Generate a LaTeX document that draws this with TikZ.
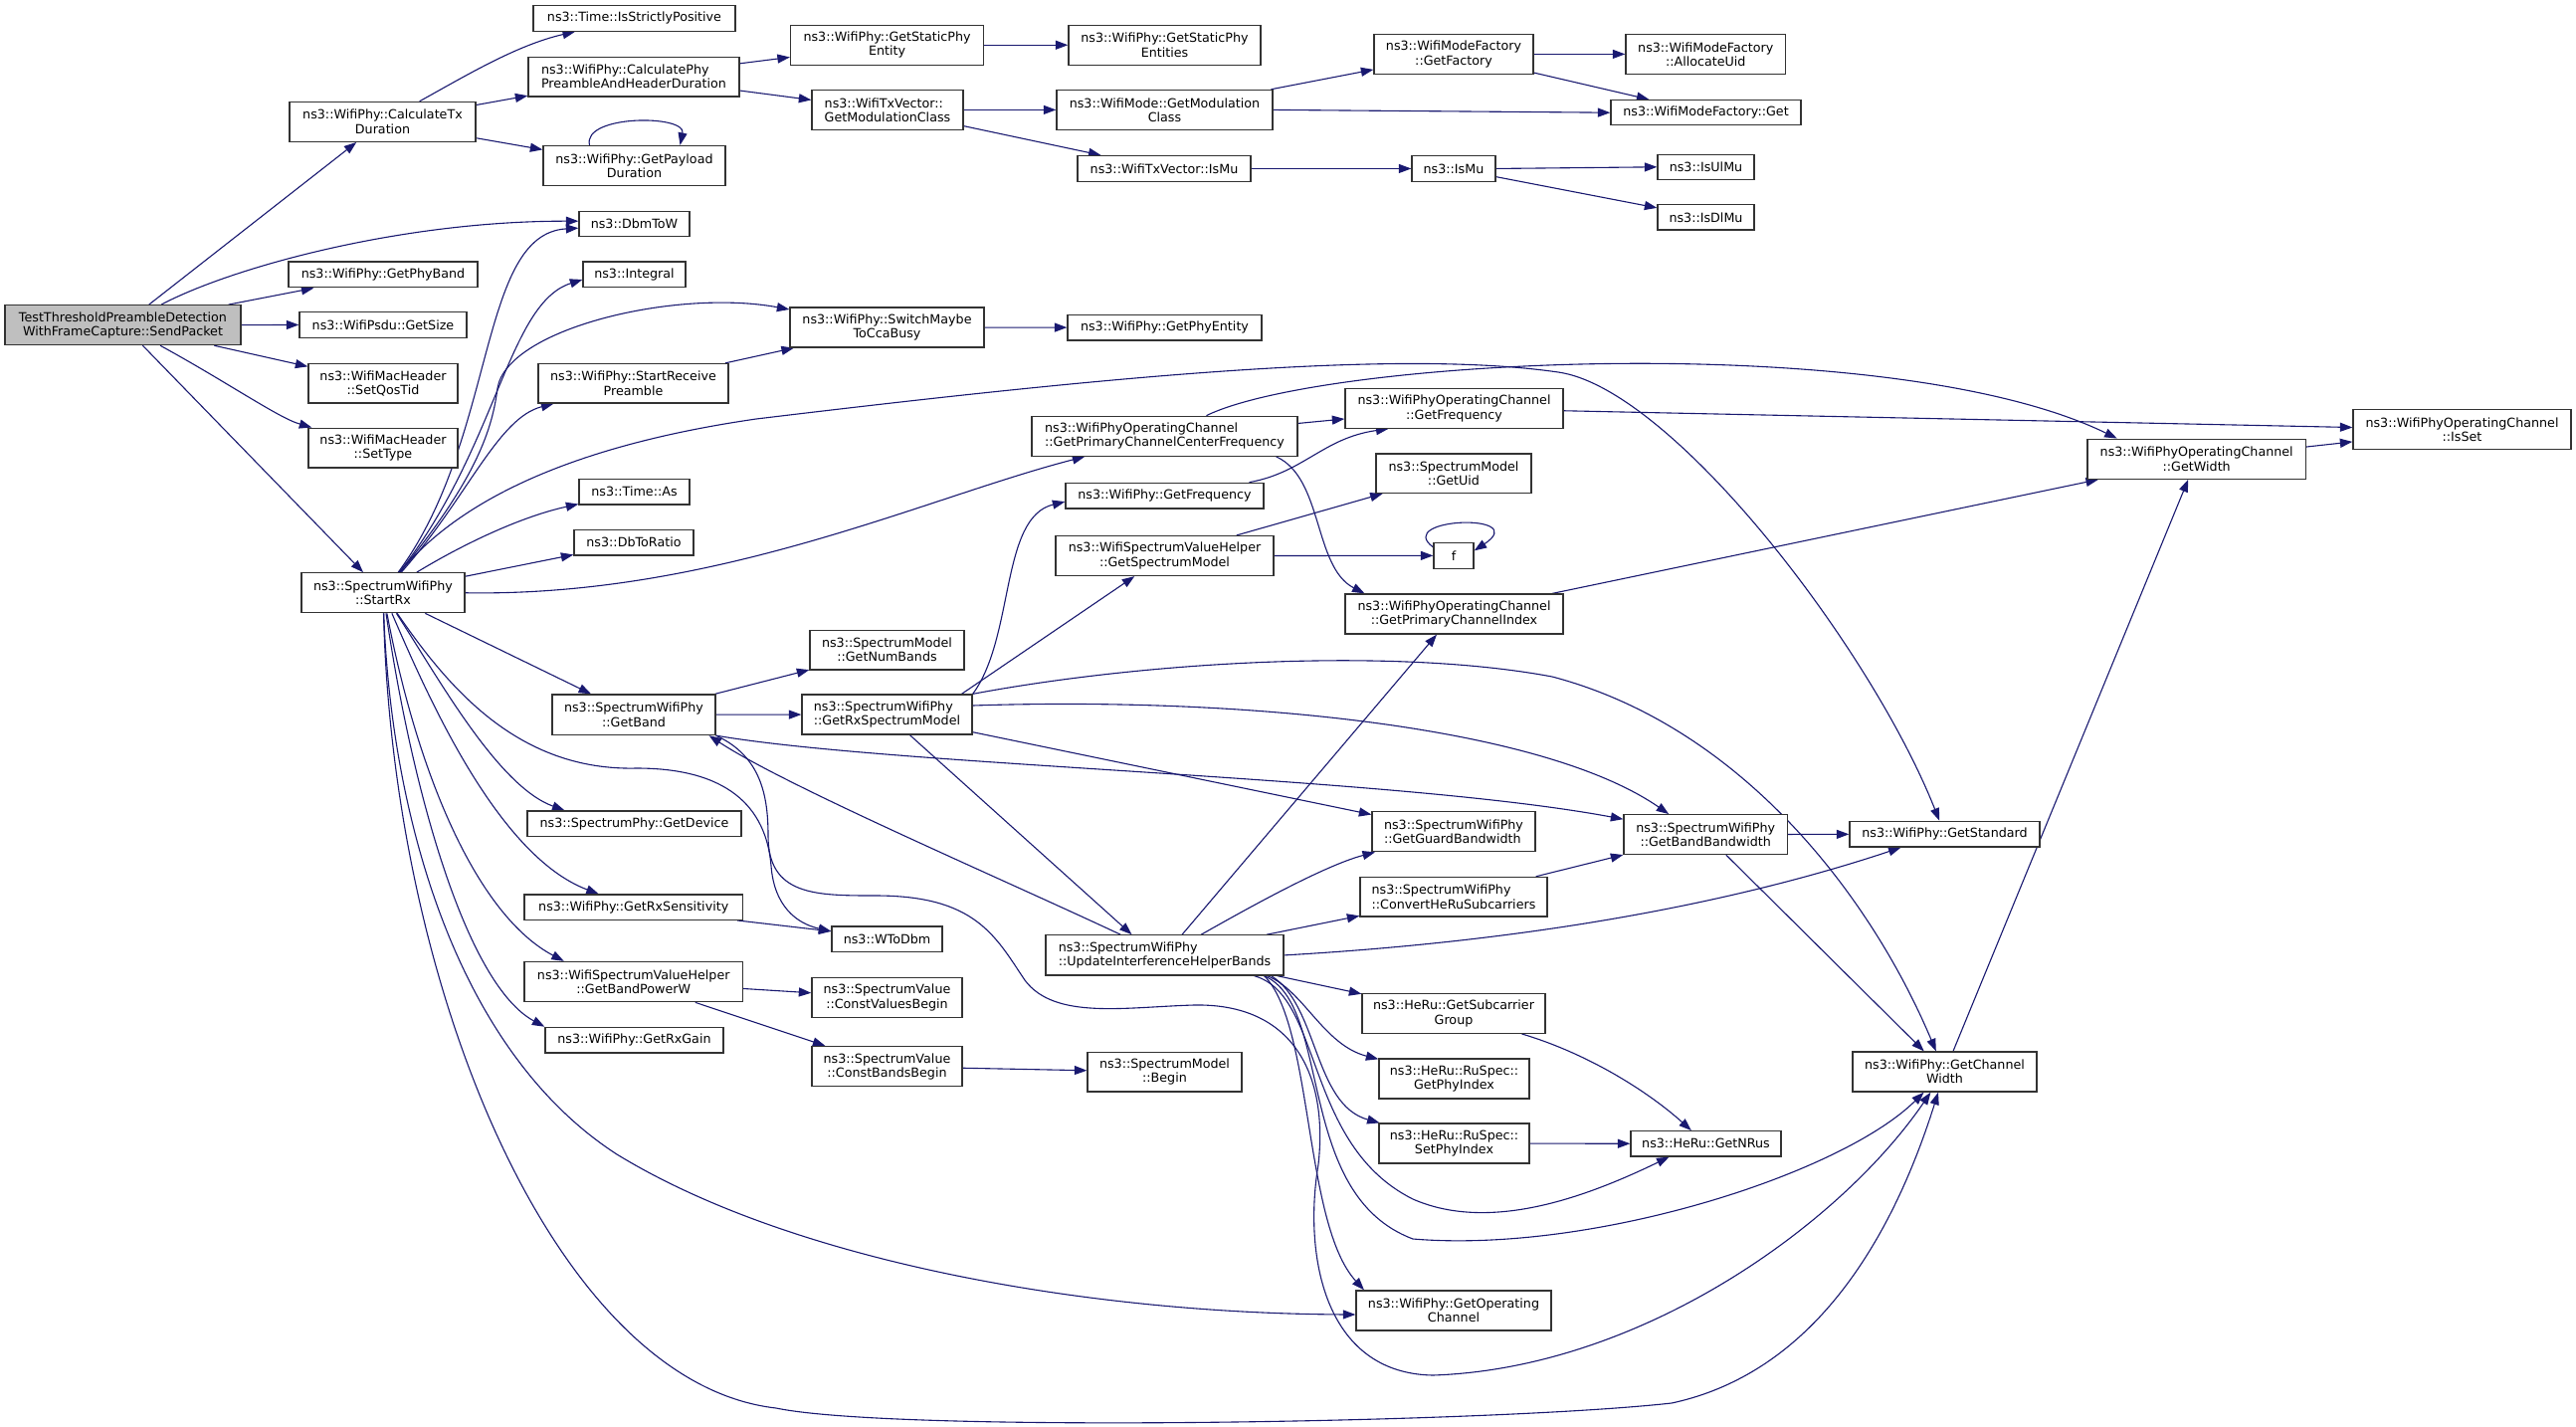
\documentclass[tikz,border=0pt]{standalone}
\usepackage{fontspec}
\setmainfont{DejaVu Sans}
\usetikzlibrary{arrows.meta}
\definecolor{edgec}{HTML}{191970}
\definecolor{boxc}{HTML}{333333}
\definecolor{rootc}{HTML}{BFBFBF}
\pgfdeclarelayer{background}
\pgfsetlayers{background,main}
\tikzset{
  box/.style={draw=boxc, line width=1.3pt, fill=white, rectangle, inner sep=0pt, align=center, font=\fontsize{12.7}{14.2}\selectfont},
  boxl/.style={box, align=left},
  e/.style={draw=edgec, line width=1.1pt, -{Triangle[length=12.5pt,width=9pt]}},
}
\newcommand\mknode[7][]{\node[box,#1,minimum width={#4-#3},minimum height={#6-#5}] (#2) at ({(#3+#4)/2},{(#5+#6)/2}) {#7};}
\begin{document}
\begin{tikzpicture}[x=1pt,y=-1pt]
\useasboundingbox (0,0) rectangle (2589,1433);
% nodes
\mknode[fill=rootc]{sp}{5}{242}{306.7}{346.6}{TestThresholdPreambleDetection\\WithFrameCapture::SendPacket}
\mknode{ctd}{291}{478}{102.4}{142.3}{ns3::WifiPhy::CalculateTx\\Duration}
\mknode{isp}{536}{739}{5.5}{31.2}{ns3::Time::IsStrictlyPositive}
\mknode[boxl]{cpp}{531}{743}{57.4}{96.9}{ns3::WifiPhy::CalculatePhy\\PreambleAndHeaderDuration}
\mknode{gpd}{546}{729}{146.5}{186.4}{ns3::WifiPhy::GetPayload\\Duration}
\mknode{dbmtow}{582}{693}{212.6}{237.8}{ns3::DbmToW}
\mknode{gpb}{290}{480}{263.1}{288.8}{ns3::WifiPhy::GetPhyBand}
\mknode{integral}{586}{689}{263.1}{288.8}{ns3::Integral}
\mknode{gsize}{301}{469}{313.6}{339.3}{ns3::WifiPsdu::GetSize}
\mknode{sqt}{310}{460}{365.5}{405}{ns3::WifiMacHeader\\::SetQosTid}
\mknode{srp}{541}{732}{365.5}{405}{ns3::WifiPhy::StartReceive\\Preamble}
\mknode{stype}{310}{460}{430.2}{470}{ns3::WifiMacHeader\\::SetType}
\mknode{tas}{582}{693}{481.6}{506.9}{ns3::Time::As}
\mknode{dbr}{577}{697}{532.6}{557.9}{ns3::DbToRatio}
\mknode{sr}{303}{467}{575.8}{615.7}{ns3::SpectrumWifiPhy\\::StartRx}
\mknode{gband}{555}{719}{698}{738.5}{ns3::SpectrumWifiPhy\\::GetBand}
\mknode{gdev}{530}{745}{815}{840.3}{ns3::SpectrumPhy::GetDevice}
\mknode{grs}{527}{746.5}{899}{924.3}{ns3::WifiPhy::GetRxSensitivity}
\mknode{gbpw}{527}{746.5}{966.5}{1006.7}{ns3::WifiSpectrumValueHelper\\::GetBandPowerW}
\mknode{grg}{548}{727}{1032.4}{1058.1}{ns3::WifiPhy::GetRxGain}
\mknode{gspe}{794.5}{988.7}{25.3}{65.2}{ns3::WifiPhy::GetStaticPhy\\Entity}
\mknode{gspes}{1074}{1267}{25.3}{65.2}{ns3::WifiPhy::GetStaticPhy\\Entities}
\mknode[boxl]{tvgmc}{816}{968}{90.4}{130.4}{ns3::WifiTxVector::\\GetModulationClass}
\mknode{wmgmc}{1062}{1279}{90.4}{130.4}{ns3::WifiMode::GetModulation\\Class}
\mknode{tvismu}{1083}{1257}{156.6}{182.3}{ns3::WifiTxVector::IsMu}
\mknode{gfac}{1381}{1541}{34.4}{74.4}{ns3::WifiModeFactory\\::GetFactory}
\mknode{auid}{1634}{1794.5}{34.4}{74.4}{ns3::WifiModeFactory\\::AllocateUid}
\mknode{wmfget}{1619}{1810}{100.6}{125.8}{ns3::WifiModeFactory::Get}
\mknode{ismu}{1419}{1503}{156.6}{182.3}{ns3::IsMu}
\mknode{isul}{1666}{1763}{155.2}{180.4}{ns3::IsUlMu}
\mknode{isdl}{1666}{1763}{205.7}{231}{ns3::IsDlMu}
\mknode{sw}{794}{989}{309}{349}{ns3::WifiPhy::SwitchMaybe\\ToCcaBusy}
\mknode{gpe}{1073}{1268}{316.3}{342}{ns3::WifiPhy::GetPhyEntity}
\mknode[boxl]{gpccf}{1037}{1304}{418.3}{458.2}{ns3::WifiPhyOperatingChannel\\::GetPrimaryChannelCenterFrequency}
\mknode{wpgf}{1071}{1270}{485.3}{511}{ns3::WifiPhy::GetFrequency}
\mknode{gsm}{1061}{1280}{538.6}{578.5}{ns3::WifiSpectrumValueHelper\\::GetSpectrumModel}
\mknode{gnb}{814}{969}{633.2}{673.1}{ns3::SpectrumModel\\::GetNumBands}
\mknode[boxl]{grsm}{806}{977}{698}{738}{ns3::SpectrumWifiPhy\\::GetRxSpectrumModel}
\mknode{wtodbm}{836}{947}{931}{956.7}{ns3::WToDbm}
\mknode{cvb}{816}{967}{982.4}{1022.6}{ns3::SpectrumValue\\::ConstValuesBegin}
\mknode{cbb}{816}{967}{1051.6}{1091.8}{ns3::SpectrumValue\\::ConstBandsBegin}
\mknode{smb}{1093}{1248}{1057.6}{1097}{ns3::SpectrumModel\\::Begin}
\mknode[boxl]{uihb}{1051}{1290}{939.8}{980}{ns3::SpectrumWifiPhy\\::UpdateInterferenceHelperBands}
\mknode{wpocgf}{1352}{1571}{390.7}{430.2}{ns3::WifiPhyOperatingChannel\\::GetFrequency}
\mknode{guid}{1383}{1539}{456}{495.4}{ns3::SpectrumModel\\::GetUid}
\mknode{fn}{1441}{1481}{545.5}{571.2}{f}
\mknode{gpci}{1352}{1571}{597}{637}{ns3::WifiPhyOperatingChannel\\::GetPrimaryChannelIndex}
\mknode[boxl]{ggb}{1379}{1543}{815.5}{855.7}{ns3::SpectrumWifiPhy\\::GetGuardBandwidth}
\mknode[boxl]{cvt}{1367}{1555}{881.4}{921.1}{ns3::SpectrumWifiPhy\\::ConvertHeRuSubcarriers}
\mknode{gsg}{1369}{1553}{998.7}{1038.3}{ns3::HeRu::GetSubcarrier\\Group}
\mknode{gpi}{1386}{1537}{1064}{1104}{ns3::HeRu::RuSpec::\\GetPhyIndex}
\mknode{spi}{1386}{1537}{1129}{1169}{ns3::HeRu::RuSpec::\\SetPhyIndex}
\mknode{goc}{1363}{1559}{1297}{1337}{ns3::WifiPhy::GetOperating\\Channel}
\mknode{gbb}{1632}{1796.4}{818.7}{858.5}{ns3::SpectrumWifiPhy\\::GetBandBandwidth}
\mknode{gs}{1859}{2050}{825.3}{851}{ns3::WifiPhy::GetStandard}
\mknode{gnrus}{1639}{1790}{1136.7}{1162}{ns3::HeRu::GetNRus}
\mknode{gcw}{1862}{2047}{1057}{1097}{ns3::WifiPhy::GetChannel\\Width}
\mknode{gw}{2098}{2317.4}{441.2}{481.2}{ns3::WifiPhyOperatingChannel\\::GetWidth}
\mknode{isset}{2365}{2584}{411.8}{451.8}{ns3::WifiPhyOperatingChannel\\::IsSet}
\begin{pgfonlayer}{background}
\fill[white] (0,0) rectangle (2589,1433);
% SendPacket
\draw[e] (sp) -- (ctd);
\draw[e] (sp) .. controls (230,270) and (400,222) .. ([yshift=3]dbmtow.west);
\draw[e] (sp) -- (gpb);
\draw[e] (sp.east) -- (gsize.west);
\draw[e] (sp) -- (sqt);
\draw[e] (sp) .. controls (230,385) and (280,420) .. (stype);
\draw[e] (sp) -- (sr);
% CalculateTxDuration
\draw[e] (ctd) .. controls (470,75) and (520,45) .. (isp);
\draw[e] (ctd) -- (cpp);
\draw[e] (ctd) -- (gpd);
\draw[e] ([xshift=-45]gpd.north) .. controls (585,115) and (690,115) .. ([xshift=46]gpd.north);
\draw[e] (cpp) -- (gspe);
\draw[e] (cpp) -- (tvgmc);
\draw[e] (gspe) -- (gspes);
\draw[e] (tvgmc) -- (wmgmc);
\draw[e] (tvgmc) -- (tvismu);
\draw[e] (wmgmc) -- (gfac);
\draw[e] (wmgmc.east) -- (wmfget.west);
\draw[e] (gfac) -- (auid);
\draw[e] (gfac) -- (wmfget);
\draw[e] (tvismu) -- (ismu);
\draw[e] (ismu.east) -- (isul.west);
\draw[e] (ismu) -- (isdl);
% StartRx
\draw[e] (sr) .. controls (500,440) and (480,235) .. ([yshift=-4]dbmtow.west);
\draw[e] (sr) .. controls (500,450) and (510,305) .. ([yshift=-5]integral.west);
\draw[e] (sr) .. controls (480,480) and (495,430) .. (500,390) .. controls (510,330) and (680,290) .. (sw);
\draw[e] (sr) .. controls (470,500) and (500,420) .. (srp);
\draw[e] (srp) -- (sw);
\draw[e] (sw) -- (gpe);
\draw[e] (sr) .. controls (455,510) and (560,450) .. (760,421) .. controls (1100,380) and (1400,350) .. (1566,374) .. controls (1680,390) and (1880,650) .. (gs);
\draw[e] (sr.east) .. controls (720,600) and (930,500) .. (gpccf);
\draw[e] (sr) .. controls (460,550) and (520,520) .. (tas);
\draw[e] (sr) -- (dbr);
\draw[e] (sr) -- (gband);
\draw[e] (sr) .. controls (440,680) and (500,790) .. ([xshift=-70]gdev.north);
\draw[e] (sr) .. controls (430,700) and (500,860) .. ([xshift=-35]grs.north);
\draw[e] (sr) .. controls (420,780) and (480,920) .. ([xshift=-70]gbpw.north);
\draw[e] (sr) .. controls (415,800) and (470,990) .. (grg.north west);
\draw[e] (sr) .. controls (392,800) and (450,1050) .. (620,1160) .. controls (800,1270) and (1100,1320) .. ([yshift=-4]goc.west);
\draw[e] (sr) .. controls (395,1000) and (560,1390) .. (780,1415) .. controls (900,1440) and (1500,1430) .. (1680,1410) .. controls (1820,1380) and (1900,1250) .. (gcw);
\draw[e] (sr) .. controls (450,690) and (520,775) .. (640,772) .. controls (730,772) and (770,810) .. (775,870) .. controls (778,910) and (800,928) .. ([yshift=8]wtodbm.west);
\draw[e] ([xshift=-6]grs.south east) -- ([yshift=8]wtodbm.west);
% GetBand
\draw[e] (gband) -- (gnb);
\draw[e] (gband) -- (grsm);
\draw[e] (gband.south east) .. controls (900,770) and (1400,780) .. (gbb);
\draw[e] (gband.south east) .. controls (765,760) and (772,800) .. (772,840) .. controls (772,900) and (820,900) .. (880,900) .. controls (980,900) and (1000,940) .. (1030,985) .. controls (1060,1025) and (1130,1012) .. (1200,1010) .. controls (1300,1008) and (1335,1080) .. (1325,1170) .. controls (1310,1260) and (1330,1380) .. (1440,1382) .. controls (1650,1375) and (1850,1230) .. (gcw);
% GetRxSpectrumModel
\draw[e] (grsm) -- ([xshift=-33]uihb.north);
\draw[e] (grsm.north east) .. controls (1020,640) and (1005,520) .. ([yshift=-6]wpgf.west);
\draw[e] ([xshift=75]grsm.north) -- (gsm);
\draw[e] (grsm.north east) .. controls (1150,665) and (1400,650) .. (1560,680) .. controls (1750,730) and (1880,900) .. (gcw);
\draw[e] ([yshift=9]grsm.east) .. controls (1250,700) and (1550,730) .. ([xshift=-37]gbb.north);
\draw[e] (grsm) -- (ggb);
% UpdateInterferenceHelperBands
\draw[e] (uihb) .. controls (1000,880) and (790,790) .. ([xshift=-7]gband.south east);
\draw[e] (uihb) .. controls (1250,915) and (1330,870) .. (ggb);
\draw[e] (uihb) -- (cvt);
\draw[e] (uihb.east) .. controls (1550,945) and (1750,905) .. ([xshift=-44]gs.south);
\draw[e] (uihb) -- (gpci);
\draw[e] ([xshift=90]uihb.south) .. controls (1330,1000) and (1310,1150) .. (1420,1205) .. controls (1500,1240) and (1600,1200) .. ([xshift=-37]gnrus.south);
\draw[e] ([xshift=100]uihb.south) .. controls (1340,1010) and (1300,1200) .. (1420,1245) .. controls (1600,1260) and (1850,1180) .. (gcw);
\draw[e] ([xshift=-7]uihb.south east) -- (gsg);
\draw[e] ([xshift=-17]uihb.south east) .. controls (1310,995) and (1330,1050) .. (gpi);
\draw[e] ([xshift=-13]uihb.south east) .. controls (1325,1010) and (1320,1110) .. (spi);
\draw[e] ([xshift=-20]uihb.south east) .. controls (1320,1030) and (1310,1230) .. ([xshift=-90]goc.north);
% misc
\draw[e] (cvt) -- (gbb);
\draw[e] (gbb) -- (gs);
\draw[e] (gbb) -- (gcw);
\draw[e] (gsg) .. controls (1600,1060) and (1660,1100) .. (gnrus);
\draw[e] (spi) -- (gnrus);
\draw[e] (gcw) -- (gw);
\draw[e] (gpci) -- (gw);
\draw[e] (gw) -- (isset);
\draw[e] (wpocgf) -- (isset);
\draw[e] (gpccf) .. controls (1330,360) and (1900,330) .. ([xshift=-80]gw.north);
\draw[e] (gpccf) -- (wpocgf);
\draw[e] ([xshift=112]gpccf.south) .. controls (1330,480) and (1320,570) .. ([xshift=-90]gpci.north);
\draw[e] ([xshift=85]wpgf.north) .. controls (1310,475) and (1330,440) .. ([xshift=-66]wpocgf.south);
\draw[e] (gsm) -- (guid);
\draw[e] (gsm) -- (fn);
\draw[e] ([yshift=-5]fn.north west) .. controls (1400,520) and (1540,515) .. ([yshift=5]fn.east);
\draw[e] (gbpw) -- (cvb);
\draw[e] (gbpw) -- (cbb);
\draw[e] (cbb) -- (smb);
\end{pgfonlayer}
\end{tikzpicture}
\end{document}
